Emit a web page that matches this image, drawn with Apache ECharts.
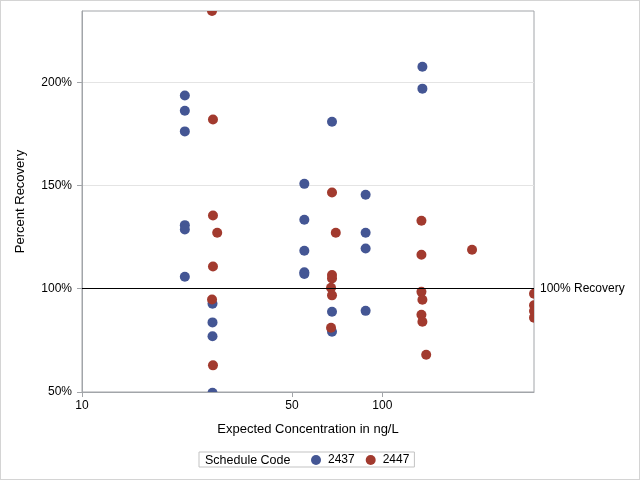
<!DOCTYPE html>
<html>
<head>
<meta charset="utf-8">
<script src="https://cdn.jsdelivr.net/npm/echarts@6/dist/echarts.min.js"></script>
<style>
html,body{margin:0;padding:0;background:#fff;}
#wrap{position:relative;width:640px;height:480px;}
#chart{position:absolute;left:0;top:0;width:640px;height:480px;}
#frame{position:absolute;left:0;top:0;width:638px;height:478px;border:1px solid #d4d4d4;pointer-events:none;}
</style>
</head>
<body>
<div id="wrap"><div id="chart"></div><div id="frame"></div></div>
<script>
// Axis ranges and ticks
const xMin = 10, xMax = 320;
const yMin = 50, yMax = 234.5;
const xTickValues = [10, 50, 100];
const yTickValues = [50, 100, 150, 200];
const refValue = 100;
const refLabel = '100% Recovery';
const seriesNames = ['2437', '2447'];
const legendTitle = 'Schedule Code';

// Schedule 2437
const conc2437 = [22, 22, 22, 22, 22, 22,
  27.2, 27.2, 27.2, 27.2,
  55, 55, 55, 55, 55,
  68, 68, 68,
  88, 88, 88, 88,
  136, 136];
const rec2437 = [193.6, 186.2, 176.2, 130.8, 128.7, 105.8,
  92.7, 83.7, 77.0, 49.6,
  150.8, 133.4, 118.4, 108.0, 107.2,
  180.9, 88.9, 79.2,
  145.5, 127.1, 119.5, 89.3,
  207.5, 196.9];

// Schedule 2447
const conc2447 = [27.1, 27.3, 27.3, 28.2, 27.3, 27.1, 27.3,
  68, 70, 68, 68, 67.5, 68, 67.5,
  135, 135, 135, 136, 135, 136, 140,
  199,
  320, 320, 320, 320];
const rec2447 = [234.5, 182.0, 135.5, 127.1, 110.8, 94.8, 62.9,
  146.6, 127.1, 106.6, 105.0, 100.5, 96.8, 81.1,
  132.9, 116.5, 98.5, 94.7, 87.4, 84.0, 68.0,
  118.9,
  97.6, 92.0, 89.2, 86.0];

const colors = ['#445694', '#A23A2E'];
const font = '"Liberation Sans", Arial, sans-serif';

function zip(a, b) { return a.map((v, i) => [v, b[i]]); }

function dotRenderer(color) {
  return function (params, api) {
    const p = api.coord([api.value(0), api.value(1)]);
    return {type: 'circle', shape: {cx: p[0], cy: p[1], r: 5}, style: {fill: color}};
  };
}

const chart = echarts.init(document.getElementById('chart'), null, {renderer: 'canvas'});
chart.setOption({
  animation: false,
  textStyle: {fontFamily: font},
  grid: {left: 82, right: 106, top: 11, bottom: 88, show: true, borderColor: '#a2a5a9', borderWidth: 1, backgroundColor: 'transparent'},
  xAxis: {
    type: 'log', logBase: 10, min: xMin, max: xMax,
    name: 'Expected Concentration in ng/L', nameLocation: 'middle', nameGap: 31,
    nameTextStyle: {color: '#000', fontSize: 13, fontFamily: font},
    axisLine: {show: true, lineStyle: {color: '#a2a5a9'}},
    axisTick: {show: true, length: 5, lineStyle: {color: '#a2a5a9'}, customValues: xTickValues},
    axisLabel: {color: '#000', fontSize: 12, margin: 8, customValues: xTickValues,
      formatter: v => String(Math.round(v > 5 ? v : Math.pow(10, v)))},
    splitLine: {show: false}, minorTick: {show: false}
  },
  yAxis: {
    type: 'value', min: yMin, max: yMax, interval: 50,
    name: 'Percent Recovery', nameLocation: 'middle', nameGap: 55,
    nameTextStyle: {color: '#000', fontSize: 13, fontFamily: font},
    axisLine: {show: true, lineStyle: {color: '#a2a5a9'}},
    axisTick: {show: true, length: 5, lineStyle: {color: '#a2a5a9'}, customValues: yTickValues},
    axisLabel: {color: '#000', fontSize: 12, margin: 10, customValues: yTickValues, formatter: v => v + '%'},
    splitLine: {show: true, lineStyle: {color: '#e4e4e4', width: 1}}
  },
  legend: {
    left: 199, top: 452, orient: 'horizontal',
    padding: [2, 5, 1, 112], itemGap: 11, itemWidth: 14, itemHeight: 10,
    borderColor: '#c3c3c3', borderWidth: 1, backgroundColor: '#fff',
    textStyle: {color: '#000', fontSize: 12, fontFamily: font},
    data: [{name: seriesNames[0], icon: 'circle'}, {name: seriesNames[1], icon: 'circle'}]
  },
  graphic: [{
    type: 'text', left: 205, top: 454, z: 100,
    style: {text: legendTitle, fill: '#000', font: '12.5px ' + font}
  }],
  series: [
    {
      type: 'line', data: [], z: 1, silent: true,
      markLine: {
        silent: true, symbol: ['none', 'none'],
        lineStyle: {color: '#000', width: 1, type: 'solid'},
        label: {show: true, position: 'end', distance: 6, formatter: refLabel, color: '#000', fontSize: 12, fontFamily: font},
        data: [{yAxis: refValue}]
      }
    },
    {
      name: seriesNames[0], type: 'custom', z: 3, clip: true,
      itemStyle: {color: colors[0]}, renderItem: dotRenderer(colors[0]),
      encode: {x: 0, y: 1}, data: zip(conc2437, rec2437)
    },
    {
      name: seriesNames[1], type: 'custom', z: 3, clip: true,
      itemStyle: {color: colors[1]}, renderItem: dotRenderer(colors[1]),
      encode: {x: 0, y: 1}, data: zip(conc2447, rec2447)
    }
  ]
});
</script>
</body>
</html>
